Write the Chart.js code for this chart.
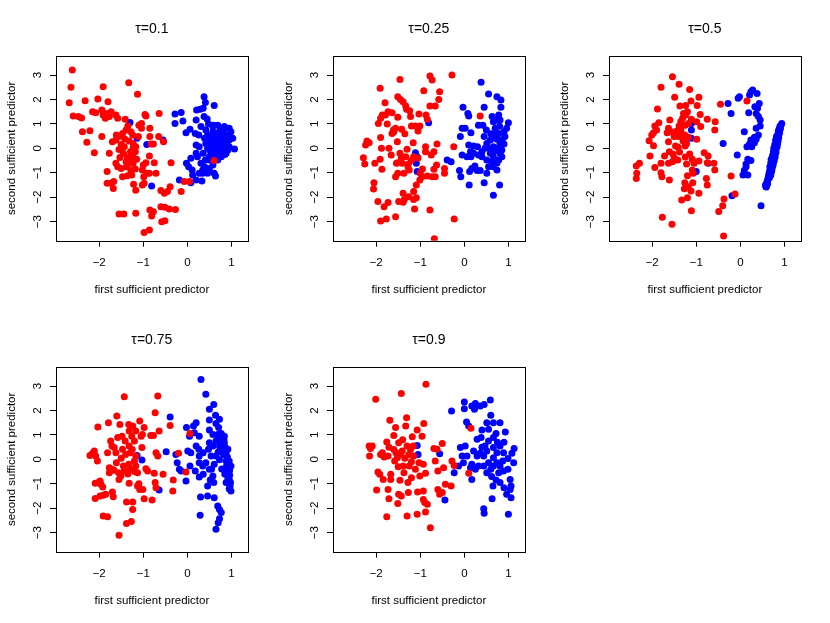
<!DOCTYPE html>
<html>
<head>
<meta charset="utf-8">
<script src="https://cdn.jsdelivr.net/npm/chart.js@4/dist/chart.umd.min.js"></script>
<style>
  body { margin: 0; background: #fff; }
  #wrap { position: relative; width: 830px; height: 623px; background: #fff; }
  canvas { position: absolute; }
</style>
</head>
<body>
<div id="wrap">
  <canvas id="c1" width="277" height="312" style="left:0px;top:0px"></canvas>
  <canvas id="c2" width="277" height="312" style="left:277px;top:0px"></canvas>
  <canvas id="c3" width="277" height="312" style="left:553px;top:0px"></canvas>
  <canvas id="c4" width="277" height="312" style="left:0px;top:311px"></canvas>
  <canvas id="c5" width="277" height="312" style="left:277px;top:311px"></canvas>
</div>
<script>
const xTicks = [-2, -1, 0, 1]
const yTicks = [-3, -2, -1, 0, 1, 2, 3]
const xLimits = [-2.98, 1.37]
const yLimits = [-3.78, 3.78]
const xLabel = 'first sufficient predictor'
const yLabel = 'second sufficient predictor'

// tau = 0.1
const redTau01 = [[-2.61,3.21],[-2.64,2.50],[-2.68,1.87],[-2.59,1.32],[-2.47,1.30],[-2.40,1.24],[-2.32,1.95],[-2.38,0.68],[-2.21,0.72],[-2.28,0.25],[-2.11,-0.18],[-2.03,2.02],[-1.91,2.52],[-1.80,1.91],[-2.15,1.50],[-2.08,1.46],[-1.94,1.57],[-1.91,1.36],[-1.85,1.43],[-1.73,1.50],[-1.77,1.30],[-1.86,1.23],[-1.94,0.48],[-1.77,-0.20],[-1.62,1.36],[-1.58,1.23],[-1.61,0.55],[-1.70,0.27],[-1.62,0.34],[-1.33,2.69],[-1.13,2.21],[-1.41,1.19],[-1.35,0.91],[-1.39,0.75],[-1.47,0.61],[-1.55,0.48],[-1.28,0.68],[-1.24,0.55],[-1.11,0.48],[-1.23,0.20],[-1.43,0.07],[-1.50,0.16],[-1.45,-0.20],[-1.36,-0.37],[-1.39,-0.55],[-1.53,-0.37],[-1.62,-0.61],[-1.58,-0.75],[-1.50,-0.82],[-1.38,-0.75],[-1.28,-0.91],[-1.28,-0.61],[-1.24,-0.23],[-1.18,-0.14],[-1.23,0.00],[-1.29,-0.14],[-1.17,0.07],[-1.24,-0.41],[-1.23,-0.61],[-1.47,-1.16],[-1.36,-1.12],[-1.26,-1.09],[-1.82,-0.95],[-1.82,-1.43],[-1.73,-1.43],[-1.67,-1.36],[-1.68,-1.64],[-1.22,-1.47],[-1.17,-1.71],[-1.55,-2.69],[-1.44,-2.69],[-1.17,-2.66],[-1.04,1.02],[-1.04,0.82],[-0.96,1.39],[-0.94,1.32],[-0.85,0.82],[-0.85,0.48],[-0.82,0.18],[-0.77,0.18],[-0.86,-0.31],[-0.94,-0.59],[-1.00,-0.68],[-1.02,-0.89],[-0.92,-1.02],[-0.99,-1.16],[-0.98,-1.43],[-1.02,-1.50],[-0.75,-0.59],[-0.71,-1.02],[-0.86,-1.02],[-0.65,0.48],[-0.54,0.27],[-0.64,1.43],[-0.37,-0.59],[-0.60,-1.73],[-0.52,-1.84],[-0.45,-1.77],[-0.39,-1.57],[-0.14,-1.77],[-0.07,-1.36],[0.05,-1.36],[-0.85,-2.52],[-0.77,-2.59],[-0.81,-2.77],[-0.60,-2.39],[-0.51,-2.41],[-0.41,-2.48],[-0.27,-2.50],[-0.58,-3.00],[-0.51,-2.96],[-0.98,-3.44],[-0.86,-3.34],[0.61,-0.50],[-1.42,0.38],[-1.32,0.30],[-1.15,-0.45],[-1.10,0.95],[-1.55,-0.05],[-1.18,-0.85]]
const blueTau01 = [[-1.30,1.06],[-1.14,0.41],[-0.92,0.16],[-0.55,0.34],[-0.81,-1.54],[-0.28,1.41],[-0.14,1.47],[-0.28,1.02],[-0.10,1.12],[-0.03,0.64],[0.06,0.78],[0.20,1.16],[0.21,1.57],[0.29,1.60],[0.38,2.11],[0.41,1.88],[0.36,1.64],[0.61,1.75],[0.38,1.30],[0.45,1.20],[0.31,0.89],[0.18,0.61],[0.26,0.55],[0.20,0.14],[0.27,0.07],[0.20,-0.20],[0.08,-0.41],[-0.02,-0.61],[0.03,-0.75],[0.11,-0.89],[-0.18,-1.30],[0.08,-1.41],[0.20,-1.30],[0.33,-1.34],[0.35,-1.02],[0.35,-0.89],[0.31,-0.61],[0.41,-0.48],[0.50,-0.34],[0.58,-0.68],[0.50,-0.82],[0.61,-1.02],[0.64,-1.13],[0.46,-1.02],[0.36,-0.20],[0.46,0.00],[0.58,0.14],[0.73,-0.20],[0.88,-0.20],[1.07,-0.03],[1.03,0.41],[0.99,0.68],[0.95,0.82],[0.84,0.89],[0.69,0.95],[0.58,0.68],[0.46,0.55],[0.39,0.41],[0.50,0.34],[0.65,0.48],[0.77,0.34],[0.88,0.27],[0.95,0.34],[0.61,0.07],[0.73,0.07],[0.84,0.00],[0.95,0.07],[0.69,-0.14],[0.80,-0.07],[0.92,-0.07],[0.42,0.75],[0.48,1.00],[0.58,0.89],[0.79,0.61],[0.88,0.55],[0.69,0.27],[0.58,0.34],[0.42,0.20],[0.61,-0.20],[0.50,-0.48],[0.69,-0.48],[0.39,-0.75],[0.27,-1.02],[0.12,-1.09],[0.23,-0.34],[0.65,-0.34],[0.77,-0.34],[0.54,-0.14],[0.73,0.68],[0.92,0.48],[0.62,0.55],[0.70,0.40],[0.80,0.15],[0.55,0.20],[0.66,0.62],[0.75,0.80],[0.85,0.40],[0.52,-0.10],[0.60,0.95],[0.53,0.45],[0.72,0.52],[0.82,0.72],[0.90,0.18],[0.67,0.18],[0.76,0.22],[0.58,-0.35],[0.85,-0.25],[0.48,0.10]]

// tau = 0.25
const redTau025 = [[-2.29,-0.38],[-2.26,-0.64],[-2.21,0.30],[-2.24,0.14],[-2.16,0.23],[-2.03,-0.61],[-2.05,-1.41],[-2.06,-1.66],[-1.96,-2.18],[-1.90,-2.97],[-1.91,2.46],[-1.95,1.02],[-1.90,1.23],[-1.86,1.36],[-1.90,0.44],[-1.88,0.00],[-1.91,-0.45],[-1.87,-0.86],[-1.82,-2.39],[-1.77,-2.89],[-1.73,-2.22],[-1.80,1.87],[-1.79,1.36],[-1.73,1.50],[-1.75,1.00],[-1.71,0.00],[-1.66,-0.27],[-1.64,1.46],[-1.61,0.75],[-1.56,0.82],[-1.64,0.61],[-1.56,-2.80],[-1.56,-1.16],[-1.54,-0.61],[-1.51,1.27],[-1.51,2.11],[-1.46,2.82],[-1.45,2.00],[-1.52,0.27],[-1.51,-0.59],[-1.51,-1.02],[-1.49,-2.18],[-1.39,-2.21],[-1.39,-1.84],[-1.36,-2.09],[-1.42,0.78],[-1.46,-0.20],[-1.43,-0.37],[-1.41,-0.61],[-1.37,-1.02],[-1.39,1.91],[-1.33,1.73],[-1.31,1.60],[-1.30,-0.04],[-1.33,-0.34],[-1.27,-0.64],[-1.25,-0.89],[-1.26,-1.98],[-1.22,1.30],[-1.20,0.91],[-1.24,1.54],[-1.16,0.23],[-1.15,-0.34],[-1.15,-1.77],[-1.15,-2.09],[-1.13,-2.48],[-1.09,-2.02],[-1.11,0.91],[-1.09,-1.50],[-1.05,0.71],[-1.03,1.41],[-1.01,0.91],[-1.01,-1.30],[-1.00,-1.02],[-0.96,-1.16],[-0.92,2.36],[-0.88,0.07],[-0.88,-0.14],[-0.87,1.36],[-0.84,1.19],[-0.84,-1.13],[-0.78,2.96],[-0.73,2.80],[-0.78,-2.52],[-0.75,-0.27],[-0.73,-1.16],[-0.66,-1.16],[-0.69,-0.86],[-0.63,-0.68],[-0.62,0.18],[-0.69,-0.14],[-0.66,1.73],[-0.58,2.00],[-0.56,2.32],[-0.78,1.73],[-0.68,-3.70],[-0.45,-0.82],[-0.45,-1.02],[-0.28,3.00],[-0.24,0.07],[-0.23,-2.89],[0.36,1.32],[-1.60,0.68],[-1.28,-0.75],[-1.20,-0.50],[-1.35,0.60],[-0.95,-0.85],[-1.05,-0.40]]
const blueTau025 = [[-0.81,1.05],[-1.11,-0.18],[-1.07,-0.34],[-1.09,-0.61],[-1.07,-0.95],[-0.39,-0.48],[-0.30,-0.55],[-0.11,-0.91],[-0.08,-1.16],[-0.09,0.48],[-0.05,0.82],[0.02,0.82],[-0.03,1.68],[0.08,1.43],[0.10,1.32],[0.15,0.64],[0.10,0.14],[0.14,-0.14],[0.15,-0.34],[0.21,0.10],[0.12,-0.95],[0.17,-0.82],[0.24,-0.72],[0.29,-0.91],[0.36,-0.91],[0.11,-1.50],[0.38,2.71],[0.45,-1.41],[0.55,2.22],[0.45,1.68],[0.32,0.95],[0.42,0.95],[0.50,0.75],[0.45,0.48],[0.30,0.07],[0.40,-0.14],[0.40,-0.34],[0.51,-0.48],[0.51,-1.02],[0.63,1.30],[0.66,1.09],[0.59,0.34],[0.66,0.07],[0.66,-0.34],[0.66,-0.75],[0.66,-1.92],[0.74,2.11],[0.83,1.98],[0.83,1.68],[0.78,1.36],[0.74,1.16],[0.81,1.16],[0.70,0.82],[0.78,0.61],[0.74,0.37],[0.81,0.20],[0.74,0.00],[0.81,-0.20],[0.78,-0.48],[0.74,-0.89],[0.80,-1.50],[0.90,0.68],[0.92,0.48],[0.96,0.82],[1.00,1.05],[0.90,0.18],[0.85,-0.07],[0.57,0.00],[0.47,0.00],[0.51,0.20],[0.59,-0.20],[0.32,-0.27],[0.21,-0.20],[0.72,0.61],[0.80,0.90],[0.65,0.48],[0.55,-0.75],[0.63,-0.55],[0.74,-0.60],[0.85,-0.34],[0.06,-0.34],[-0.05,-0.27],[0.70,-0.10],[0.60,0.60],[0.86,0.35]]

// tau = 0.5
const redTau05 = [[-2.36,-0.72],[-2.35,-1.02],[-2.36,-1.23],[-2.29,-0.61],[-1.54,2.93],[-1.39,2.62],[-1.15,2.41],[-1.80,2.50],[-1.49,2.09],[-0.94,2.09],[-1.24,1.75],[-1.12,1.94],[-0.98,1.75],[-1.37,1.73],[-1.88,1.61],[-0.45,1.81],[0.15,1.94],[-1.29,1.43],[-1.24,1.36],[-1.20,1.50],[-1.31,1.23],[-1.11,1.19],[-0.91,1.39],[-1.60,1.16],[-1.85,1.05],[-1.94,0.91],[-1.97,0.64],[-2.01,0.55],[-1.90,0.75],[-1.63,0.82],[-1.66,0.64],[-1.57,0.68],[-1.39,0.91],[-1.35,0.75],[-1.25,0.95],[-1.18,1.02],[-0.99,1.09],[-0.90,0.89],[-0.75,1.19],[-0.57,1.09],[-0.58,0.75],[-1.50,0.48],[-1.41,0.48],[-1.33,0.50],[-1.26,0.55],[-1.18,0.45],[-0.99,0.37],[-1.63,0.27],[-2.07,0.31],[-1.97,0.11],[-1.41,0.04],[-1.61,-0.14],[-1.53,-0.23],[-1.72,-0.31],[-1.80,-0.61],[-1.63,-0.61],[-1.54,-0.55],[-1.42,-0.48],[-1.15,-0.23],[-1.09,-0.45],[-1.22,-0.64],[-1.05,-0.61],[-0.94,-0.52],[-0.82,-0.18],[-0.73,-0.31],[-0.75,-0.59],[-0.60,-0.61],[-0.58,-0.89],[-2.05,-0.31],[-1.94,-0.78],[-1.80,-1.00],[-1.78,-1.16],[-1.61,-1.30],[-1.09,-0.89],[-1.07,-1.02],[-1.20,-1.12],[-1.26,-1.41],[-1.08,-1.41],[-0.77,-1.23],[-0.75,-1.50],[-1.27,-1.65],[-1.18,-1.57],[-1.12,-1.75],[-0.94,-1.84],[-1.20,-2.02],[-1.33,-2.11],[-1.11,-2.55],[-1.77,-2.82],[-1.55,-3.11],[-0.49,-2.58],[-0.40,-2.35],[-0.37,-2.07],[-0.38,-3.59],[-0.21,-1.13],[-0.12,-1.87],[-1.47,0.10],[-1.38,-0.15],[-1.30,0.30],[-1.22,0.20],[-1.50,-0.40],[-1.25,-0.35],[-1.45,0.70],[-1.35,1.10],[-1.25,0.10]]
const blueTau05 = [[-1.11,1.02],[-1.11,0.75],[-1.11,0.41],[-1.00,-0.95],[-0.73,-0.61],[-0.39,0.20],[-0.28,1.84],[-0.21,1.43],[-0.07,-0.27],[-0.05,2.05],[-0.02,2.11],[0.21,2.18],[0.24,2.32],[0.28,2.39],[0.38,2.25],[0.43,1.84],[0.39,1.64],[0.33,1.70],[0.36,1.43],[0.19,1.46],[0.41,1.30],[0.45,1.16],[0.45,0.91],[0.36,0.82],[0.09,0.68],[0.41,0.55],[0.32,0.45],[0.24,0.34],[0.32,0.23],[0.21,0.18],[0.15,0.07],[0.26,0.07],[0.36,0.37],[0.17,-0.45],[0.24,-0.50],[0.13,-0.64],[0.13,-0.75],[0.09,-0.91],[0.06,-1.09],[0.17,-1.09],[-0.19,-1.94],[0.47,-2.35],[0.58,-1.57],[0.57,-1.50],[0.59,-1.58],[0.62,-1.30],[0.60,-1.40],[0.64,-1.13],[0.63,-1.22],[0.66,-0.95],[0.65,-1.05],[0.68,-0.82],[0.70,-0.68],[0.67,-0.75],[0.71,-0.55],[0.69,-0.60],[0.73,-0.41],[0.70,-0.45],[0.76,-0.23],[0.73,-0.30],[0.77,-0.07],[0.75,-0.15],[0.79,0.07],[0.76,0.00],[0.81,0.23],[0.78,0.15],[0.83,0.41],[0.80,0.33],[0.85,0.55],[0.82,0.48],[0.86,0.68],[0.89,0.82],[0.87,0.75],[0.92,0.95],[0.94,1.02],[0.90,0.90],[0.72,-0.85],[0.74,-0.70],[0.77,-0.50],[0.79,-0.35],[0.81,-0.15],[0.83,0.05],[0.85,0.25],[0.87,0.45],[0.88,0.60],[0.68,-1.00],[0.66,-1.20],[0.71,-0.95],[0.75,-0.60],[0.80,-0.20],[0.84,0.15],[0.86,0.35],[0.89,0.65],[0.91,0.80],[0.62,-1.45],[0.69,-1.10]]

// tau = 0.75
const redTau075 = [[-2.21,0.16],[-2.15,0.25],[-2.11,0.34],[-2.08,0.14],[-2.04,-0.07],[-2.03,1.32],[-2.09,-0.98],[-2.02,-0.95],[-2.09,-1.60],[-1.98,-0.89],[-1.96,-1.02],[-1.92,-1.13],[-1.98,-1.50],[-1.91,-1.47],[-1.85,-1.43],[-1.91,-2.32],[-1.81,-2.35],[-1.79,1.50],[-1.81,0.27],[-1.77,-0.34],[-1.77,-0.55],[-1.71,-0.41],[-1.66,-0.45],[-1.70,-1.34],[-1.68,-1.53],[-1.71,0.55],[-1.74,0.75],[-1.66,0.48],[-1.62,0.27],[-1.61,-0.14],[-1.60,1.77],[-1.58,0.89],[-1.56,-0.55],[-1.55,-0.82],[-1.51,-0.68],[-1.53,1.43],[-1.48,0.95],[-1.43,2.56],[-1.41,0.75],[-1.47,0.41],[-1.45,-0.27],[-1.43,-0.48],[-1.38,-1.75],[-1.38,-2.63],[-1.55,-3.11],[-1.33,1.43],[-1.32,1.16],[-1.32,0.55],[-1.30,0.27],[-1.33,-0.20],[-1.30,-0.38],[-1.32,-0.98],[-1.27,-2.54],[-1.24,-2.05],[-1.24,-1.75],[-1.26,0.95],[-1.24,1.36],[-1.20,0.75],[-1.17,1.16],[-1.17,0.14],[-1.20,-0.07],[-1.17,-0.27],[-1.13,-0.55],[-1.13,-1.09],[-1.08,-1.23],[-1.08,1.57],[-1.05,0.95],[-1.02,1.02],[-1.03,0.48],[-0.98,1.30],[-1.01,-1.23],[-0.98,-1.61],[-0.94,-0.38],[-0.90,-0.48],[-0.83,0.98],[-0.77,0.98],[-0.80,-1.66],[-0.73,1.91],[-0.67,2.59],[-0.71,0.27],[-0.67,0.14],[-0.73,-0.95],[-0.71,-1.16],[-0.75,-0.57],[-0.64,1.16],[-0.55,-0.61],[-0.39,1.39],[-0.33,-1.30],[-0.32,-0.85],[-0.20,0.25],[-0.03,-0.52],[0.06,1.06],[-1.40,0.20],[-1.25,0.40],[-1.50,0.05],[-1.20,-0.50],[-1.35,-0.60],[-1.10,-1.00]]
const blueTau075 = [[-1.14,0.16],[-1.03,-0.03],[-0.64,-1.25],[-0.48,0.31],[-0.39,1.73],[-0.26,0.20],[-0.23,-0.14],[-0.18,-0.41],[-0.14,-0.48],[-0.03,-0.89],[-0.02,1.30],[0.05,0.95],[0.06,-0.27],[0.01,0.34],[0.08,0.27],[0.14,1.36],[0.20,1.50],[0.16,1.09],[0.27,0.95],[0.20,0.55],[0.26,0.41],[0.27,0.14],[0.18,-0.48],[0.27,-0.14],[0.27,-0.72],[0.30,-1.54],[0.29,-2.29],[0.31,3.27],[0.36,0.27],[0.35,-0.27],[0.36,-0.61],[0.42,2.66],[0.46,-1.09],[0.46,-1.50],[0.42,-0.14],[0.50,2.05],[0.50,1.61],[0.50,1.20],[0.50,0.68],[0.48,0.41],[0.54,0.14],[0.50,-0.41],[0.52,-0.85],[0.58,1.02],[0.58,0.55],[0.61,-1.57],[0.60,2.25],[0.64,1.80],[0.65,1.47],[0.69,1.02],[0.65,0.75],[0.69,-1.91],[0.73,-2.05],[0.77,-2.18],[0.73,-2.43],[0.70,-2.59],[0.65,-2.86],[0.73,1.64],[0.71,1.30],[0.77,1.06],[0.80,0.89],[0.73,0.55],[0.84,0.68],[0.79,0.41],[0.82,0.20],[0.88,-0.07],[0.89,-0.27],[0.94,-0.55],[0.95,-0.82],[0.97,-1.09],[0.99,-1.30],[0.95,-0.07],[0.99,-0.27],[0.92,-0.75],[0.88,-0.95],[0.65,0.14],[0.73,-0.02],[0.61,-0.20],[0.88,0.27],[0.92,0.41],[0.58,-0.68],[0.84,0.95],[0.70,0.30],[0.78,-0.40],[0.60,-0.95],[0.85,-0.60],[0.96,-0.45],[0.55,-0.40],[0.90,-0.40],[0.93,-0.20],[0.96,-0.65],[0.98,-0.95],[0.91,0.10],[0.86,0.50],[0.83,0.80],[0.76,0.70],[0.70,0.85],[0.95,-1.20]]

// tau = 0.9
const redTau09 = [[-2.01,2.46],[-2.16,0.55],[-2.13,0.44],[-2.09,0.55],[-2.15,0.14],[-1.99,-1.25],[-1.96,-0.52],[-1.92,-0.61],[-1.90,0.20],[-1.86,0.27],[-1.82,0.10],[-1.84,-0.82],[-1.76,0.71],[-1.71,0.50],[-1.73,0.14],[-1.69,1.60],[-1.76,-2.35],[-1.73,-1.23],[-1.71,-1.61],[-1.67,-0.61],[-1.67,-0.82],[-1.60,0.98],[-1.56,1.30],[-1.58,-0.07],[-1.55,0.27],[-1.52,0.07],[-1.49,0.68],[-1.51,-1.81],[-1.49,-1.43],[-1.46,-0.86],[-1.43,2.70],[-1.43,-1.50],[-1.41,0.34],[-1.39,-0.27],[-1.37,-0.55],[-1.33,1.36],[-1.31,1.70],[-1.30,-2.32],[-1.27,-1.36],[-1.28,-0.95],[-1.26,0.20],[-1.22,0.40],[-1.18,0.93],[-1.16,0.55],[-1.15,0.14],[-1.11,-0.41],[-1.07,1.20],[-1.07,-2.25],[-1.06,-1.34],[-1.03,-0.14],[-1.01,-0.68],[-0.96,0.95],[-0.93,-0.20],[-0.92,1.47],[-0.87,3.07],[-0.93,-1.64],[-0.90,-1.77],[-0.84,-1.84],[-0.88,-2.16],[-0.93,-1.30],[-0.88,-0.57],[-0.77,-2.80],[-0.69,0.44],[-0.62,0.41],[-0.66,-0.07],[-0.60,-0.48],[-0.60,-1.23],[-0.56,-1.43],[-0.50,-1.36],[-0.50,0.65],[-0.47,-0.34],[-0.43,-1.02],[-0.30,-1.09],[-0.28,-0.07],[-0.23,-0.25],[0.15,1.27],[0.10,-0.57],[-1.60,0.40],[-1.45,0.20],[-1.35,0.05],[-1.25,-0.27],[-1.20,-0.10],[-1.40,0.80],[-1.30,0.55],[-1.50,-0.30],[-1.20,-0.75]]
const blueTau09 = [[-1.07,0.57],[-1.05,0.20],[-0.56,0.23],[-0.44,-1.66],[-0.29,1.98],[-0.23,-0.55],[-0.13,-0.27],[-0.09,0.48],[-0.05,0.14],[-0.02,-0.14],[0.00,2.35],[0.00,2.07],[0.05,1.53],[0.10,1.36],[0.02,0.55],[0.06,0.14],[0.14,-0.34],[0.17,-0.82],[0.17,2.18],[0.23,2.05],[0.25,2.29],[0.36,2.18],[0.45,2.25],[0.59,2.43],[0.60,1.80],[0.51,1.50],[0.55,1.23],[0.40,1.20],[0.29,0.82],[0.38,0.89],[0.21,0.34],[0.29,0.14],[0.36,0.25],[0.44,0.14],[0.51,0.34],[0.47,0.55],[0.66,0.89],[0.72,1.06],[0.81,1.50],[0.93,1.12],[0.66,1.50],[0.66,0.48],[0.74,0.27],[0.81,0.55],[0.89,0.27],[1.08,0.25],[1.13,0.44],[1.12,-0.14],[0.55,-0.14],[0.60,-0.41],[0.66,-0.27],[0.74,-0.14],[0.81,-0.27],[0.89,-0.48],[0.99,-0.41],[1.04,-0.82],[1.06,-1.09],[1.04,-1.23],[1.06,-1.57],[0.96,-1.43],[0.90,-1.16],[0.81,-0.95],[0.72,-0.85],[0.65,-1.09],[0.63,-1.61],[0.44,-2.02],[0.45,-2.21],[1.00,-2.25],[0.17,-0.20],[0.25,-0.41],[0.32,-0.27],[0.44,-0.27],[0.51,-0.55],[0.78,-0.55],[0.66,0.07],[0.87,-0.07],[0.99,0.03],[0.55,0.75],[0.75,0.70],[0.90,0.70],[0.62,-0.70],[0.40,0.50]]

const fontFamily = '"Liberation Sans", Arial, Helvetica, sans-serif'

function minus(value) {
    return String(value).replace('-', '\u2212')
}

function toPoints(list) {
    return list.map((p) => ({x: p[0], y: p[1]}))
}

const boxPlugin = {
    id: 'box',
    afterDraw(chart) {
        const {ctx, chartArea} = chart
        const l = Math.round(chartArea.left) + 0.5
        const t = Math.round(chartArea.top) + 0.5
        const r = Math.round(chartArea.right) + 0.5
        const b = Math.round(chartArea.bottom) + 0.5
        ctx.save()
        ctx.strokeStyle = '#000'
        ctx.lineWidth = 1
        ctx.strokeRect(l, t, r - l, b - t)
        ctx.restore()
    }
}

function makePanel(id, title, red, blue) {
    const tickFont = {family: fontFamily, size: 11.5}
    const config = {
        type: 'scatter',
        data: {
            datasets: [
                {label: 'red', data: toPoints(red), backgroundColor: '#ff0000', pointRadius: 3.5, borderWidth: 0},
                {label: 'blue', data: toPoints(blue), backgroundColor: '#0000ff', pointRadius: 3.5, borderWidth: 0}
            ]
        },
        options: {
            responsive: false,
            animation: false,
            devicePixelRatio: 1,
            events: [],
            layout: {padding: {left: 0, top: 0, right: 29.3, bottom: 0}},
            plugins: {
                legend: {display: false},
                tooltip: {enabled: false},
                title: {
                    display: true,
                    text: title,
                    fullSize: false,
                    color: '#000',
                    font: {family: fontFamily, size: 14, weight: 'normal'},
                    padding: {top: 20.9, bottom: 18.3}
                }
            },
            scales: {
                x: {
                    type: 'linear',
                    bounds: 'data',
                    min: xLimits[0],
                    max: xLimits[1],
                    afterBuildTicks: (scale) => { scale.ticks = xTicks.map((v) => ({value: v})) },
                    afterFit: (scale) => { scale.height = 71.3 },
                    grid: {drawOnChartArea: false, drawTicks: true, tickLength: 6, color: '#000'},
                    border: {display: false},
                    ticks: {color: '#000', font: tickFont, padding: 9.7, maxRotation: 0, autoSkip: false, callback: minus},
                    title: {display: true, text: xLabel, color: '#000', font: tickFont, padding: {top: 0, bottom: 15.1}}
                },
                y: {
                    type: 'linear',
                    bounds: 'data',
                    min: yLimits[0],
                    max: yLimits[1],
                    afterBuildTicks: (scale) => { scale.ticks = yTicks.map((v) => ({value: v})) },
                    afterFit: (scale) => { scale.width = 56 },
                    grid: {drawOnChartArea: false, drawTicks: true, tickLength: 6, color: '#000'},
                    border: {display: false},
                    ticks: {color: '#000', font: tickFont, padding: 5.75, minRotation: 90, maxRotation: 90, crossAlign: 'center', autoSkip: false, callback: minus},
                    title: {display: true, text: yLabel, color: '#000', font: tickFont, padding: {top: 5, bottom: 0}}
                }
            }
        },
        plugins: [boxPlugin]
    }
    return new Chart(document.getElementById(id), config)
}

makePanel('c1', '\u03c4=0.1', redTau01, blueTau01)
makePanel('c2', '\u03c4=0.25', redTau025, blueTau025)
makePanel('c3', '\u03c4=0.5', redTau05, blueTau05)
makePanel('c4', '\u03c4=0.75', redTau075, blueTau075)
makePanel('c5', '\u03c4=0.9', redTau09, blueTau09)
</script>
</body>
</html>
